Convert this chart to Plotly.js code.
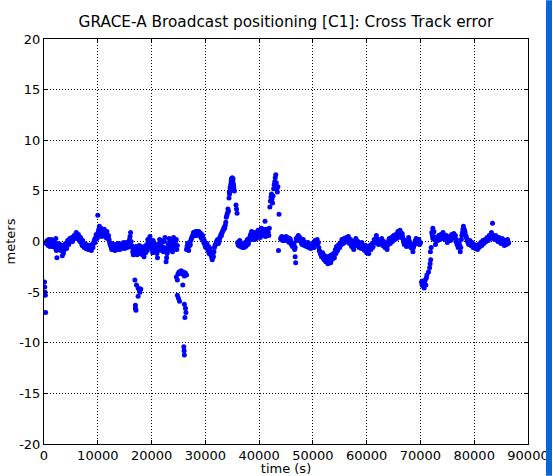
<!DOCTYPE html>
<html>
<head>
<meta charset="utf-8">
<script src="https://cdn.plot.ly/plotly-3.0.1.min.js"></script>
<style>html,body{margin:0;padding:0;overflow:hidden;background:#fff;}#chart{width:553px;height:476px;}</style>
</head>
<body>
<div id="chart"></div>
<script>
// time (s) - main samples
var timeS = [
 100,150,200,250,300,
 400,600,800,1000,1200,1400,1600,1800,2000,2200,2400,2600,2800,3000,3200,3400,3600,3800,4000,4200,4400,4600,4800,5000,5200,5400,5600,5800,6000,6200,6400,6600,6800,7000,7200,7400,7600,7800,8000,8200,8400,8600,8800,9000,9200,9400,9600,9800,
 10000,10100,10300,10500,10700,10900,11100,11300,11500,11700,11900,12100,12300,12500,12700,12900,13100,13300,13500,13700,13900,14100,14300,14500,14700,14900,15100,15300,15500,15700,15900,16100,16300,16500,16700,
 16900,17100,17300,17500,17700,17900,18100,18300,18500,18700,18900,19100,19300,19500,19700,19900,20100,20300,20500,20700,20900,21100,21300,21500,21700,21900,22100,22300,22500,22700,22900,23100,23300,23500,23700,23900,24100,24300,24500,24700,
 16900,17000,17200,17500,17700,17850,18000,17500,17000,17100,
 24600,24800,24900,25100,25300,25500,25700,25900,26100,26300,26500,25800,24800,25000,25200,26100,26300,26400,26200,26000,26050,26100,
 26500,26700,26900,27100,27300,27500,27700,27900,28100,28300,28500,28700,28900,29100,29300,29500,29700,29900,30100,30300,30500,30700,30900,31100,31300,31500,31700,31900,32100,32300,32500,32700,32900,33100,33300,33500,33700,33900,34100,34300,
 34400,34500,34600,34700,34800,34900,35000,35100,35200,35300,35400,35700,35800,35900,
 36000,36200,36400,36600,36800,37000,37200,37400,37600,37800,38000,38200,38400,38600,38800,39000,39200,39400,39600,39800,40000,40200,40400,40600,40800,41000,41200,41400,41600,41800,41100,
 42000,42100,42200,42300,42400,42500,42600,42700,42800,42900,43000,43100,43200,43300,43400,43500,43700,43600,
 44000,44200,44400,44600,44800,45000,45200,45400,45600,45800,46000,46200,46400,46600,46700,46800,47000,47200,47400,47600,47800,48000,48200,48400,48600,48800,49000,49200,49400,49600,49800,
 50000,50200,50400,50600,50800,51000,51200,51400,51600,51800,52000,52200,52400,52600,52800,53000,53200,53400,53600,53800,54000,54200,54400,54600,54800,55000,55200,55400,55600,55800,
 56000,56200,56400,56600,56800,57000,57200,57400,57600,57800,58000,58200,58400,58600,58800,59000,59200,59400,59600,59800,60000,60200,60400,60600,60800,61000,61200,61400,61600,61800,
 62000,62200,62400,62600,62800,63000,63200,63400,63600,63800,64000,64200,64400,64600,64800,65000,65200,65400,65600,65800,66000,66200,66400,66600,66800,67000,67200,67400,67600,67800,
 68000,68200,68400,68600,68800,69000,69200,69400,69600,69800,70000,
 70200,70300,70400,70500,70600,70700,70800,70900,71000,71100,71200,71500,71700,71800,71900,71850,72000,
 72200,72300,72400,72600,72800,73000,73200,73400,73600,73800,74000,74200,74400,74600,74800,75000,75200,75400,75600,75800,76000,76200,76400,76600,76800,77000,77200,77400,77600,77800,
 78000,78200,78400,78600,78800,79000,79200,79400,79600,79800,80000,80200,80400,80600,80800,81000,81200,81400,81600,81800,82000,82200,82400,82600,82800,83000,83200,83400,83600,83800,
 84000,84200,84400,84600,84800,85000,85200,85400,85600,85800,86000,86200,86400
];
// cross track error (meters) - main samples
var crossTrack = [
 -4.0,-4.5,-5.0,-5.3,-7.0,
 -0.2,0.1,-0.4,0.0,-0.3,0.2,-0.5,-0.1,-0.6,0.3,-1.6,-0.4,-0.8,-0.3,-0.6,-1.4,-1.2,-0.5,-0.2,-0.7,0.1,-0.3,0.3,0.0,0.4,0.2,0.6,0.3,0.9,0.5,0.7,0.2,0.4,-0.2,0.1,-0.5,-0.3,-0.7,-0.5,-0.8,-0.6,-0.4,-0.9,-0.5,-0.2,0.2,0.4,0.6,
 2.6,1.0,1.5,0.8,0.5,1.1,0.7,0.9,0.4,1.0,0.5,0.2,-0.3,-0.6,-0.2,-0.8,-0.5,-0.7,-0.3,-0.6,-0.4,-0.8,-0.5,-0.2,-0.6,-0.3,-0.5,-0.1,-0.6,-0.3,0.2,0.9,-0.4,-1.0,-0.7,
 -1.2,-0.5,-1.3,-0.9,-0.4,-1.1,-0.7,-1.3,-0.9,-0.5,-1.1,-0.3,0.2,-0.6,0.5,-0.2,-0.8,0.1,-0.5,-1.0,-0.3,-1.6,-0.6,0.2,-0.4,-0.9,0.0,-0.6,0.4,-2.0,-1.2,-0.3,0.3,-0.7,-0.1,-1.0,0.4,-0.5,0.1,-0.8,
 -3.8,-6.3,-4.3,-4.6,-4.8,-5.0,-4.7,-5.4,-6.6,-6.8,
 -3.5,-3.8,-3.2,-3.0,-3.1,-2.9,-3.2,-3.0,-3.4,-3.1,-3.3,-4.3,-5.3,-5.6,-5.9,-6.2,-6.6,-7.0,-7.5,-10.4,-10.8,-11.2,
 -0.8,-0.2,-0.9,-0.4,0.1,0.4,0.7,0.9,0.6,0.8,1.0,0.7,0.9,0.5,0.3,0.6,-0.1,-0.3,-0.6,-0.2,-0.9,-1.2,-0.7,-1.4,-1.8,-1.5,-0.6,-0.3,0.0,0.2,-0.1,0.4,0.7,0.9,1.1,1.4,1.6,2.4,2.8,3.0,
 4.3,4.7,5.3,5.6,5.9,6.1,6.3,6.0,5.7,5.3,5.0,3.6,3.2,2.8,
 -0.1,-0.4,0.1,-0.3,-0.5,-0.2,-0.6,-0.1,-0.4,0.2,-0.2,0.3,0.7,1.0,0.4,0.6,0.2,0.8,0.5,1.1,0.7,0.4,1.3,0.9,0.6,1.0,0.5,0.8,1.1,0.6,2.0,
 3.4,4.0,4.4,4.7,4.2,3.8,4.5,5.2,5.6,5.9,6.3,6.6,5.8,5.2,4.9,5.4,2.7,-0.9,
 0.3,0.5,0.1,0.4,0.2,0.5,0.1,0.3,-0.1,0.2,-0.3,-0.5,-0.2,-0.8,-1.5,-2.1,0.1,0.5,0.3,0.4,0.0,-0.3,0.2,-0.4,-0.1,-0.5,-0.2,-0.6,-0.3,-0.7,-0.4,
 -0.2,-0.6,0.1,-0.3,0.2,-0.1,-0.9,-1.2,-1.5,-1.1,-1.7,-1.4,-2.0,-1.6,-2.2,-1.8,-1.4,-1.9,-1.5,-1.2,-1.6,-0.8,-0.5,-0.9,-0.3,-0.6,-0.1,0.2,-0.2,0.3,
 0.0,0.4,0.1,0.5,-0.2,0.2,-0.5,-0.3,-0.8,-0.1,0.3,-0.4,0.0,-0.6,-0.2,-0.7,-0.3,-0.5,-0.9,-0.4,-1.1,-0.6,-1.2,-0.4,-0.8,-0.2,-0.5,0.2,-0.1,0.6,
 0.2,-0.3,0.1,-0.2,0.3,-0.4,0.0,-0.6,-0.3,-0.8,-0.1,0.3,-0.2,0.4,0.0,0.6,0.2,0.7,0.3,1.0,0.6,1.1,0.4,0.8,0.2,-0.3,0.1,-0.5,-0.2,0.4,
 -0.1,-0.6,-0.3,-1.0,-0.4,0.0,0.3,-0.2,0.1,-0.3,-0.1,
 -4.0,-4.3,-3.9,-4.4,-4.1,-4.6,-4.2,-3.8,-4.3,-3.6,-3.3,-3.0,-2.6,-2.2,-1.8,-1.0,-0.6,
 0.6,1.3,0.9,0.2,-0.3,0.4,0.1,0.6,0.2,0.7,0.3,0.9,0.5,0.2,0.6,-0.1,0.3,0.5,0.1,0.7,0.4,0.8,0.3,0.0,-0.3,-0.6,-0.2,-1.0,0.2,0.9,
 1.5,1.1,0.6,0.3,0.0,-0.3,0.1,-0.4,-0.1,-0.6,-0.3,-0.7,-0.4,-0.8,-0.3,-0.5,-0.1,-0.4,0.1,-0.2,0.2,0.0,0.4,0.1,0.6,0.3,0.9,1.8,0.5,0.2,
 0.6,0.3,0.0,0.4,0.1,-0.2,0.3,0.0,-0.4,0.1,-0.3,0.2,-0.1
];
// time (s) - interleaved samples
var timeS2 = [
 500,700,900,1100,1300,1500,1700,1900,2100,2300,2500,2700,2900,3100,3300,3500,3700,3900,4100,4300,4500,4700,4900,5100,5300,5500,5700,5900,6100,6300,6500,6700,6900,7100,7300,7500,7700,7900,8100,8300,8500,8700,8900,9100,9300,9500,9700,9900,
 10200,10400,10600,10800,11000,11200,11400,11600,11800,12000,12200,12400,12600,12800,13000,13200,13400,13600,13800,14000,14200,14400,14600,14800,15000,15200,15400,15600,15800,16000,
 16200,16400,16600,16800,17000,17200,17400,17600,17800,18000,18200,18400,18600,18800,19000,19200,19400,19600,19800,20000,20200,20400,20600,20800,21000,21200,21400,21600,21800,22000,
 22200,22400,22600,22800,23000,23200,23400,23600,23800,24000,24200,24400,24600,24800,
 26600,26800,27000,27200,27400,27600,27800,28000,28200,28400,28600,28800,29000,29200,29400,29600,29800,30000,30200,30400,30600,30800,31000,31200,31400,31600,31800,32000,32200,32400,
 32600,32800,33000,33200,33400,33600,33800,34000,34200,
 34450,34650,34850,35050,35150,35250,
 36100,36300,36500,36700,36900,37100,37300,37500,37700,37900,38100,38300,38500,38700,38900,39100,39300,39500,39700,39900,40100,40300,40500,40700,40900,41100,41300,41500,41700,41900,
 44100,44300,44500,44700,44900,45100,45300,45500,45700,45900,46100,46300,46500,46700,46900,47100,47300,47500,47700,47900,48100,48300,48500,48700,48900,49100,49300,49500,49700,49900,
 50100,50300,50500,50700,50900,51100,51300,51500,51700,51900,52100,52300,52500,52700,52900,53100,53300,53500,53700,53900,54100,54300,54500,54700,54900,55100,55300,55500,55700,55900,
 56100,56300,56500,56700,56900,57100,57300,57500,57700,57900,58100,58300,58500,58700,58900,59100,59300,59500,59700,59900,60100,60300,60500,60700,60900,61100,61300,61500,61700,61900,
 62100,62300,62500,62700,62900,63100,63300,63500,63700,63900,64100,64300,64500,64700,64900,65100,65300,65500,65700,65900,66100,66300,66500,66700,66900,67100,67300,67500,67700,67900,
 68100,68300,68500,68700,68900,69100,69300,69500,69700,69900,
 72100,72300,72500,72700,72900,73100,73300,73500,73700,73900,74100,74300,74500,74700,74900,75100,75300,75500,75700,75900,76100,76300,76500,76700,76900,77100,77300,77500,77700,77900,
 78100,78300,78500,78700,78900,79100,79300,79500,79700,79900,80100,80300,80500,80700,80900,81100,81300,81500,81700,81900,82100,82300,82500,82700,82900,83100,83300,83500,83700,83900,
 84100,84300,84500,84700,84900,85100,85300,85500,85700,85900,86100,86300
];
// cross track error (meters) - interleaved samples
var crossTrack2 = [
 0.0,-0.3,0.2,-0.5,0.0,-0.2,0.1,-0.4,-0.2,-0.9,-0.6,-0.2,-0.6,-0.9,-0.4,-0.8,-0.9,-0.3,-0.5,-0.2,0.0,0.1,0.2,0.3,0.0,0.4,0.5,0.6,0.7,0.3,0.5,0.0,0.2,-0.4,-0.1,-0.6,-0.4,-0.3,-0.7,-0.4,-0.8,-0.6,-0.3,-0.6,0.0,-0.1,0.7,0.3,
 1.2,0.6,1.3,0.7,0.9,1.2,0.6,0.8,0.3,0.6,-0.1,-0.4,-0.8,-0.4,-0.3,-0.9,-0.5,-0.8,-0.2,-0.6,-0.3,-0.7,-0.4,-0.1,-0.7,-0.3,-0.4,-0.1,-0.5,0.5,
 0.0,-0.6,-1.3,-0.9,-0.8,-1.0,-0.6,-1.2,-0.8,-0.5,-1.0,-0.6,-1.5,-0.8,-0.6,-0.9,0.0,0.3,-0.5,-0.3,-1.1,-0.2,-0.8,-0.5,-1.2,-0.9,-0.2,-0.7,0.1,-0.5,
 -1.0,0.0,-0.8,-1.6,-0.6,-0.9,0.0,-0.4,-0.6,0.1,-0.8,-0.2,0.2,-0.4,
 -0.5,-0.6,-0.1,-0.3,0.3,0.5,0.9,0.7,1.0,0.6,0.8,1.0,0.6,0.8,0.4,0.2,0.1,-0.5,-0.4,-0.7,-0.5,-1.0,-1.0,-1.6,-1.3,-1.0,-0.4,-0.2,0.1,-0.2,
 0.2,0.5,0.6,1.0,1.2,1.3,1.9,2.6,3.2,
 4.9,5.0,6.2,5.9,6.2,5.5,
 -0.3,0.0,-0.5,-0.2,-0.6,-0.4,-0.3,-0.5,0.0,-0.3,0.1,0.5,0.4,0.8,0.2,0.9,0.5,0.3,0.9,0.6,1.0,0.7,0.8,1.2,0.8,0.7,1.2,0.6,0.9,1.3,
 0.2,0.4,0.3,0.1,0.4,0.2,0.4,0.0,0.3,-0.1,-0.1,-0.4,-0.3,-0.6,0.3,0.2,0.6,0.1,0.2,-0.2,0.0,-0.2,-0.3,-0.3,-0.4,-0.1,-0.4,-0.5,-0.5,-0.6,
 -0.4,-0.3,-0.1,0.0,-0.2,-0.6,-1.0,-1.3,-1.4,-1.3,-1.8,-1.7,-1.5,-2.0,-1.5,-1.7,-2.1,-1.3,-1.7,-1.4,-1.0,-1.2,-0.6,-0.7,-0.5,-0.3,-0.3,0.0,0.1,-0.1,
 0.2,0.3,0.3,0.1,0.0,-0.2,-0.1,-0.6,-0.4,0.1,-0.1,-0.3,-0.2,-0.4,-0.5,-0.1,-0.6,-0.7,-0.6,-0.8,-0.9,-0.9,-0.7,-0.6,-0.5,-0.6,-0.2,0.0,0.3,0.3,
 -0.1,-0.1,0.0,0.1,-0.1,-0.2,-0.4,-0.5,-0.5,-0.4,0.1,0.0,0.1,0.2,0.3,0.4,0.5,0.5,0.6,0.8,0.8,0.7,0.6,0.5,-0.1,-0.2,-0.3,0.0,0.1,0.1,
 -0.4,-0.4,-0.7,-0.6,-0.2,0.1,0.0,-0.1,0.2,-0.2,
 0.9,0.3,1.0,0.4,0.0,0.2,0.3,0.3,0.5,0.4,0.6,0.7,0.3,0.4,0.3,0.1,0.1,0.3,0.4,0.5,0.6,0.5,0.6,0.2,-0.2,-0.4,-0.4,-0.6,0.6,1.2,
 1.2,0.9,0.5,0.1,-0.2,-0.1,-0.2,-0.3,-0.4,-0.5,-0.5,-0.6,-0.6,-0.5,-0.6,-0.3,-0.3,-0.2,-0.1,0.0,0.1,0.2,0.2,0.4,0.4,0.6,0.7,0.4,0.3,0.4,
 0.5,0.2,0.2,0.3,-0.1,0.1,0.2,-0.2,-0.2,-0.1,0.0,-0.2
];
var xTicks = [0,10000,20000,30000,40000,50000,60000,70000,80000,90000];
var yTicks = [-20,-15,-10,-5,0,5,10,15,20];

var markerStyle = {color: '#0000ff', size: 5, line: {width: 0}};
var traces = [
  {x: timeS, y: crossTrack, type: 'scatter', mode: 'markers', marker: markerStyle, hoverinfo: 'skip'},
  {x: timeS2, y: crossTrack2, type: 'scatter', mode: 'markers', marker: markerStyle, hoverinfo: 'skip'}
];
var axisCommon = {
  showline: true, linecolor: '#000', linewidth: 1, mirror: 'ticks',
  ticks: 'inside', ticklen: 4, tickcolor: '#000',
  showgrid: true, gridcolor: '#000', gridwidth: 1, griddash: '1px,2px',
  zeroline: false, automargin: false, tickfont: {family: 'DejaVu Sans', size: 13, color: '#000'}
};
var layout = {
  width: 553, height: 476,
  margin: {l: 44, r: 25, t: 39, b: 32, pad: 0},
  paper_bgcolor: '#fff', plot_bgcolor: '#fff',
  showlegend: false,
  font: {family: 'DejaVu Sans', color: '#000'},
  title: {text: 'GRACE-A Broadcast positioning [C1]: Cross Track error', font: {family: 'DejaVu Sans', size: 15.3, color: '#000'}, x: 0.517, xanchor: 'center', y: 0.954, yanchor: 'middle'},
  xaxis: Object.assign({}, axisCommon, {
    range: [0, 90000], tickvals: xTicks, ticktext: xTicks.map(String), ticklabelstandoff: -1,
    title: {text: 'time (s)', font: {family: 'DejaVu Sans', size: 13, color: '#000'}, standoff: 8}
  }),
  yaxis: Object.assign({}, axisCommon, {
    range: [-20, 20], tickvals: yTicks, ticktext: yTicks.map(String),
    title: {text: 'meters', font: {family: 'DejaVu Sans', size: 13, color: '#000'}, standoff: 0}
  }),
  shapes: [
    {type: 'rect', xref: 'paper', yref: 'paper', x0: 1.0372, x1: 1.0496, y0: -0.0785, y1: 1.0955, fillcolor: '#0a64d4', line: {width: 0}, layer: 'above'}
  ]
};
Plotly.newPlot('chart', traces, layout, {staticPlot: true, displayModeBar: false});
</script>
</body>
</html>
